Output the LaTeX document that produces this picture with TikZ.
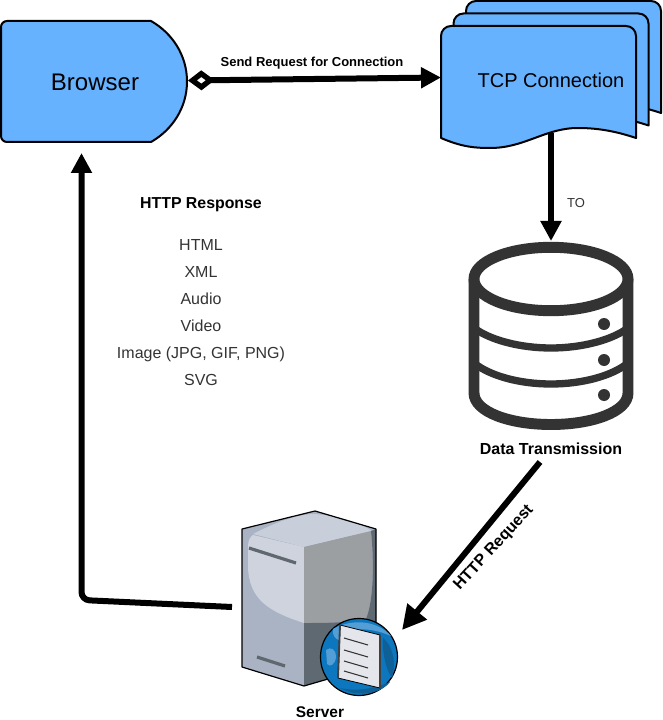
\documentclass[tikz,border=0pt]{standalone}
\usepackage{fontspec}
\setmainfont{Liberation Sans}
\usetikzlibrary{arrows.meta}

\definecolor{sheetblue}{HTML}{66B2FF}
\definecolor{dbgray}{HTML}{333333}
\definecolor{slotgray}{HTML}{5F686F}
\definecolor{srvside}{RGB}{169,179,196}
\definecolor{srvtop}{RGB}{200,206,218}
\definecolor{srvpanel}{RGB}{207,211,222}
\definecolor{srvgrey}{RGB}{156,159,161}
\definecolor{srvdark}{RGB}{95,105,114}
\definecolor{globeblue}{RGB}{12,118,190}
\definecolor{globelight}{RGB}{84,158,214}
\definecolor{globedark}{RGB}{16,96,152}
\definecolor{pagewhite}{RGB}{228,230,235}

\newcommand{\sheetpath}{(441,138) [rounded corners=7.5pt] -- (441,26) -- (636,26) [sharp corners] -- (636,138)
  .. controls (618,132) and (600,128) .. (578,128)
  .. controls (545,128) and (525,148) .. (490,148)
  .. controls (475,148) and (462,147) .. (441,138) -- cycle}

\begin{document}
\begin{tikzpicture}[
      x=0.75pt, y=-0.75pt,
      shapeline/.style = {draw=black, line width=1.5pt, fill=sheetblue},
      sheet/.style     = {shapeline, line join=round},
      flow/.style      = {-{Triangle[length=15pt, width=15pt]}, line width=4.5pt},
      dbline/.style    = {draw=dbgray, line width=8.2pt},
      dbband/.style    = {draw=dbgray, line width=5.5pt},
      lbl/.style       = {inner sep=0pt, align=center},
      boldlbl/.style   = {lbl, font=\fontsize{12}{14}\selectfont\bfseries},
      slot/.style      = {draw=slotgray, line width=2.4pt},
      docline/.style   = {draw=black!80, line width=0.8pt},
    ]
    \useasboundingbox (0,0) rectangle (662,720);

    % Browser
    \draw[shapeline] (151,142) [rounded corners=4.5pt] -- (1,142) -- (1,21) [sharp corners] -- (151,21)
      .. controls (172,33) and (187,55) .. (187,81.5)
      .. controls (187,108) and (172,130) .. (151,142) -- cycle;
    \node[lbl, font=\fontsize{18}{20}\selectfont] (browser) at (95,82) {Browser};

    % TCP sheets
    \draw[sheet, shift={(25,-25)}] \sheetpath;
    \draw[sheet, shift={(12.5,-12.5)}] \sheetpath;
    \draw[sheet] \sheetpath;
    \node[lbl, font=\fontsize{15}{17}\selectfont] (tcp) at (551,80) {TCP Connection};

    % Data store
    \draw[dbline, fill=white] (474,279) -- (474,393)
      .. controls (474,412) and (510,424.5) .. (551,424.5)
      .. controls (592,424.5) and (628,412) .. (628,393) -- (628,279);
    \draw[dbband] (474,328) .. controls (490,340) and (520,348) .. (551,348)
      .. controls (582,348) and (612,340) .. (628,328);
    \draw[dbband] (474,363) .. controls (490,376) and (520,384) .. (551,384)
      .. controls (582,384) and (612,376) .. (628,363);
    \draw[dbline, fill=white] (551,279) ellipse [x radius=77, y radius=31.7];
    \fill[dbgray] (604,324) circle [radius=6];
    \fill[dbgray] (604,360) circle [radius=6];
    \fill[dbgray] (604,395) circle [radius=6];
    \node[boldlbl] (data) at (551,449) {Data Transmission};

    % Server box
    \fill[srvside] (242,529) -- (315,511) -- (376,529) -- (376,665) -- (304,686) -- (242,667) -- cycle;
    \fill[srvtop] (253,534) .. controls (280,520) and (300,514) .. (315,514)
      .. controls (340,516) and (360,523) .. (372,531) -- (304,547) -- cycle;
    \fill[srvpanel] (253,535) -- (304,547) -- (304,623)
      .. controls (270,612) and (248,600) .. (248,565) -- (248,547) .. controls (248,540) and (250,537) .. (253,535) -- cycle;
    \fill[srvgrey] (304,547) -- (371,531) .. controls (374,560) and (374,600) .. (366,619) .. controls (345,623) and (325,623) .. (304,623) -- cycle;
    \fill[srvdark] (371,531) -- (376,529) -- (376,665) -- (304,686) -- (304,623)
      .. controls (325,623) and (345,623) .. (366,619) .. controls (374,600) and (374,560) .. (371,531) -- cycle;
    \draw[slot] (249,548) -- (296,563);
    \draw[slot] (257,657) -- (285,666);
    \draw[black, line width=0.9pt, line join=round] (242,529) -- (315,511) -- (376,529) -- (376,665) -- (304,686) -- (242,667) -- cycle;

    % Globe and page
    \draw[fill=globeblue, draw=black, line width=0.9pt] (359,657) circle [radius=38.5];
    \fill[globelight] (333,629) .. controls (348,620) and (375,618) .. (391,636) .. controls (375,629) and (350,624) .. (340,640) .. controls (336,640) and (332,636) .. (333,629) -- cycle;
    \fill[globelight] (326,650) .. controls (331,646) and (336,650) .. (336,656) .. controls (336,664) and (330,668) .. (327,664) -- cycle;
    \fill[globedark] (383,638) .. controls (392,645) and (397,662) .. (392,678) .. controls (386,670) and (382,652) .. (383,638) -- cycle;
    \fill[globedark] (340,688) .. controls (355,697) and (380,695) .. (390,682) .. controls (375,688) and (358,692) .. (340,688) -- cycle;
    \draw[fill=pagewhite, draw=black, line width=0.6pt] (340,625) -- (380,635) -- (380,688) -- (338,678) -- cycle;
    \draw[black!75, line width=1.4pt] (340,625) -- (338,678);
    \draw[black!75, line width=1.8pt] (380,635) -- (380,688);
    \draw[docline] (344,638) -- (368,645);
    \draw[docline] (344,650) -- (368,657);
    \draw[docline] (344,661) -- (368,668);
    \draw[docline] (344,671) -- (368,678);
    \node[boldlbl, font=\fontsize{11.6}{14}\selectfont\bfseries] (server) at (320,712.5) {Server};

    % Connector ends
    \coordinate (browserEast) at (188,80.5);
    \coordinate (tcpWest) at (441,77.5);
    \coordinate (tcpSouth) at (551,133);
    \coordinate (dbNorth) at (551,241);
    \coordinate (dataSouth) at (540,462);
    \coordinate (serverEast) at (402,630);
    \coordinate (serverWest) at (232,607);
    \coordinate (bend) at (81.5,600);
    \coordinate (browserSouth) at (81.5,153);

    % Flow arrows
    \draw[flow, {Diamond[open, length=20pt, width=15pt, line width=4pt, fill=white]}-{Triangle[length=15pt, width=15pt]}] (browserEast) -- (tcpWest);
    \draw[flow] (tcpSouth) -- (dbNorth);
    \draw[flow, -{Triangle[length=18pt, width=18pt]}] (dataSouth) -- (serverEast);
    \draw[flow, rounded corners=6pt] (serverWest) -- (bend) -- (browserSouth);

    % Labels
    \node[boldlbl, font=\fontsize{9.75}{12}\selectfont\bfseries] (send) at (312,63) {Send Request for Connection};
    \node[lbl, font=\fontsize{9.75}{12}\selectfont, text=dbgray] (to) at (576,203) {TO};
    \node[boldlbl, rotate=47.5] (req) at (494,548) {HTTP Request};
    \node[boldlbl, font=\fontsize{11.9}{14}\selectfont\bfseries] (resp) at (201,205) {HTTP Response};
    \node[lbl, font=\fontsize{12}{20.25}\selectfont, text=dbgray] (types) at (201,312.5)
          {HTML\\XML\\Audio\\Video\\Image (JPG, GIF, PNG)\\SVG};
\end{tikzpicture}
\end{document}
